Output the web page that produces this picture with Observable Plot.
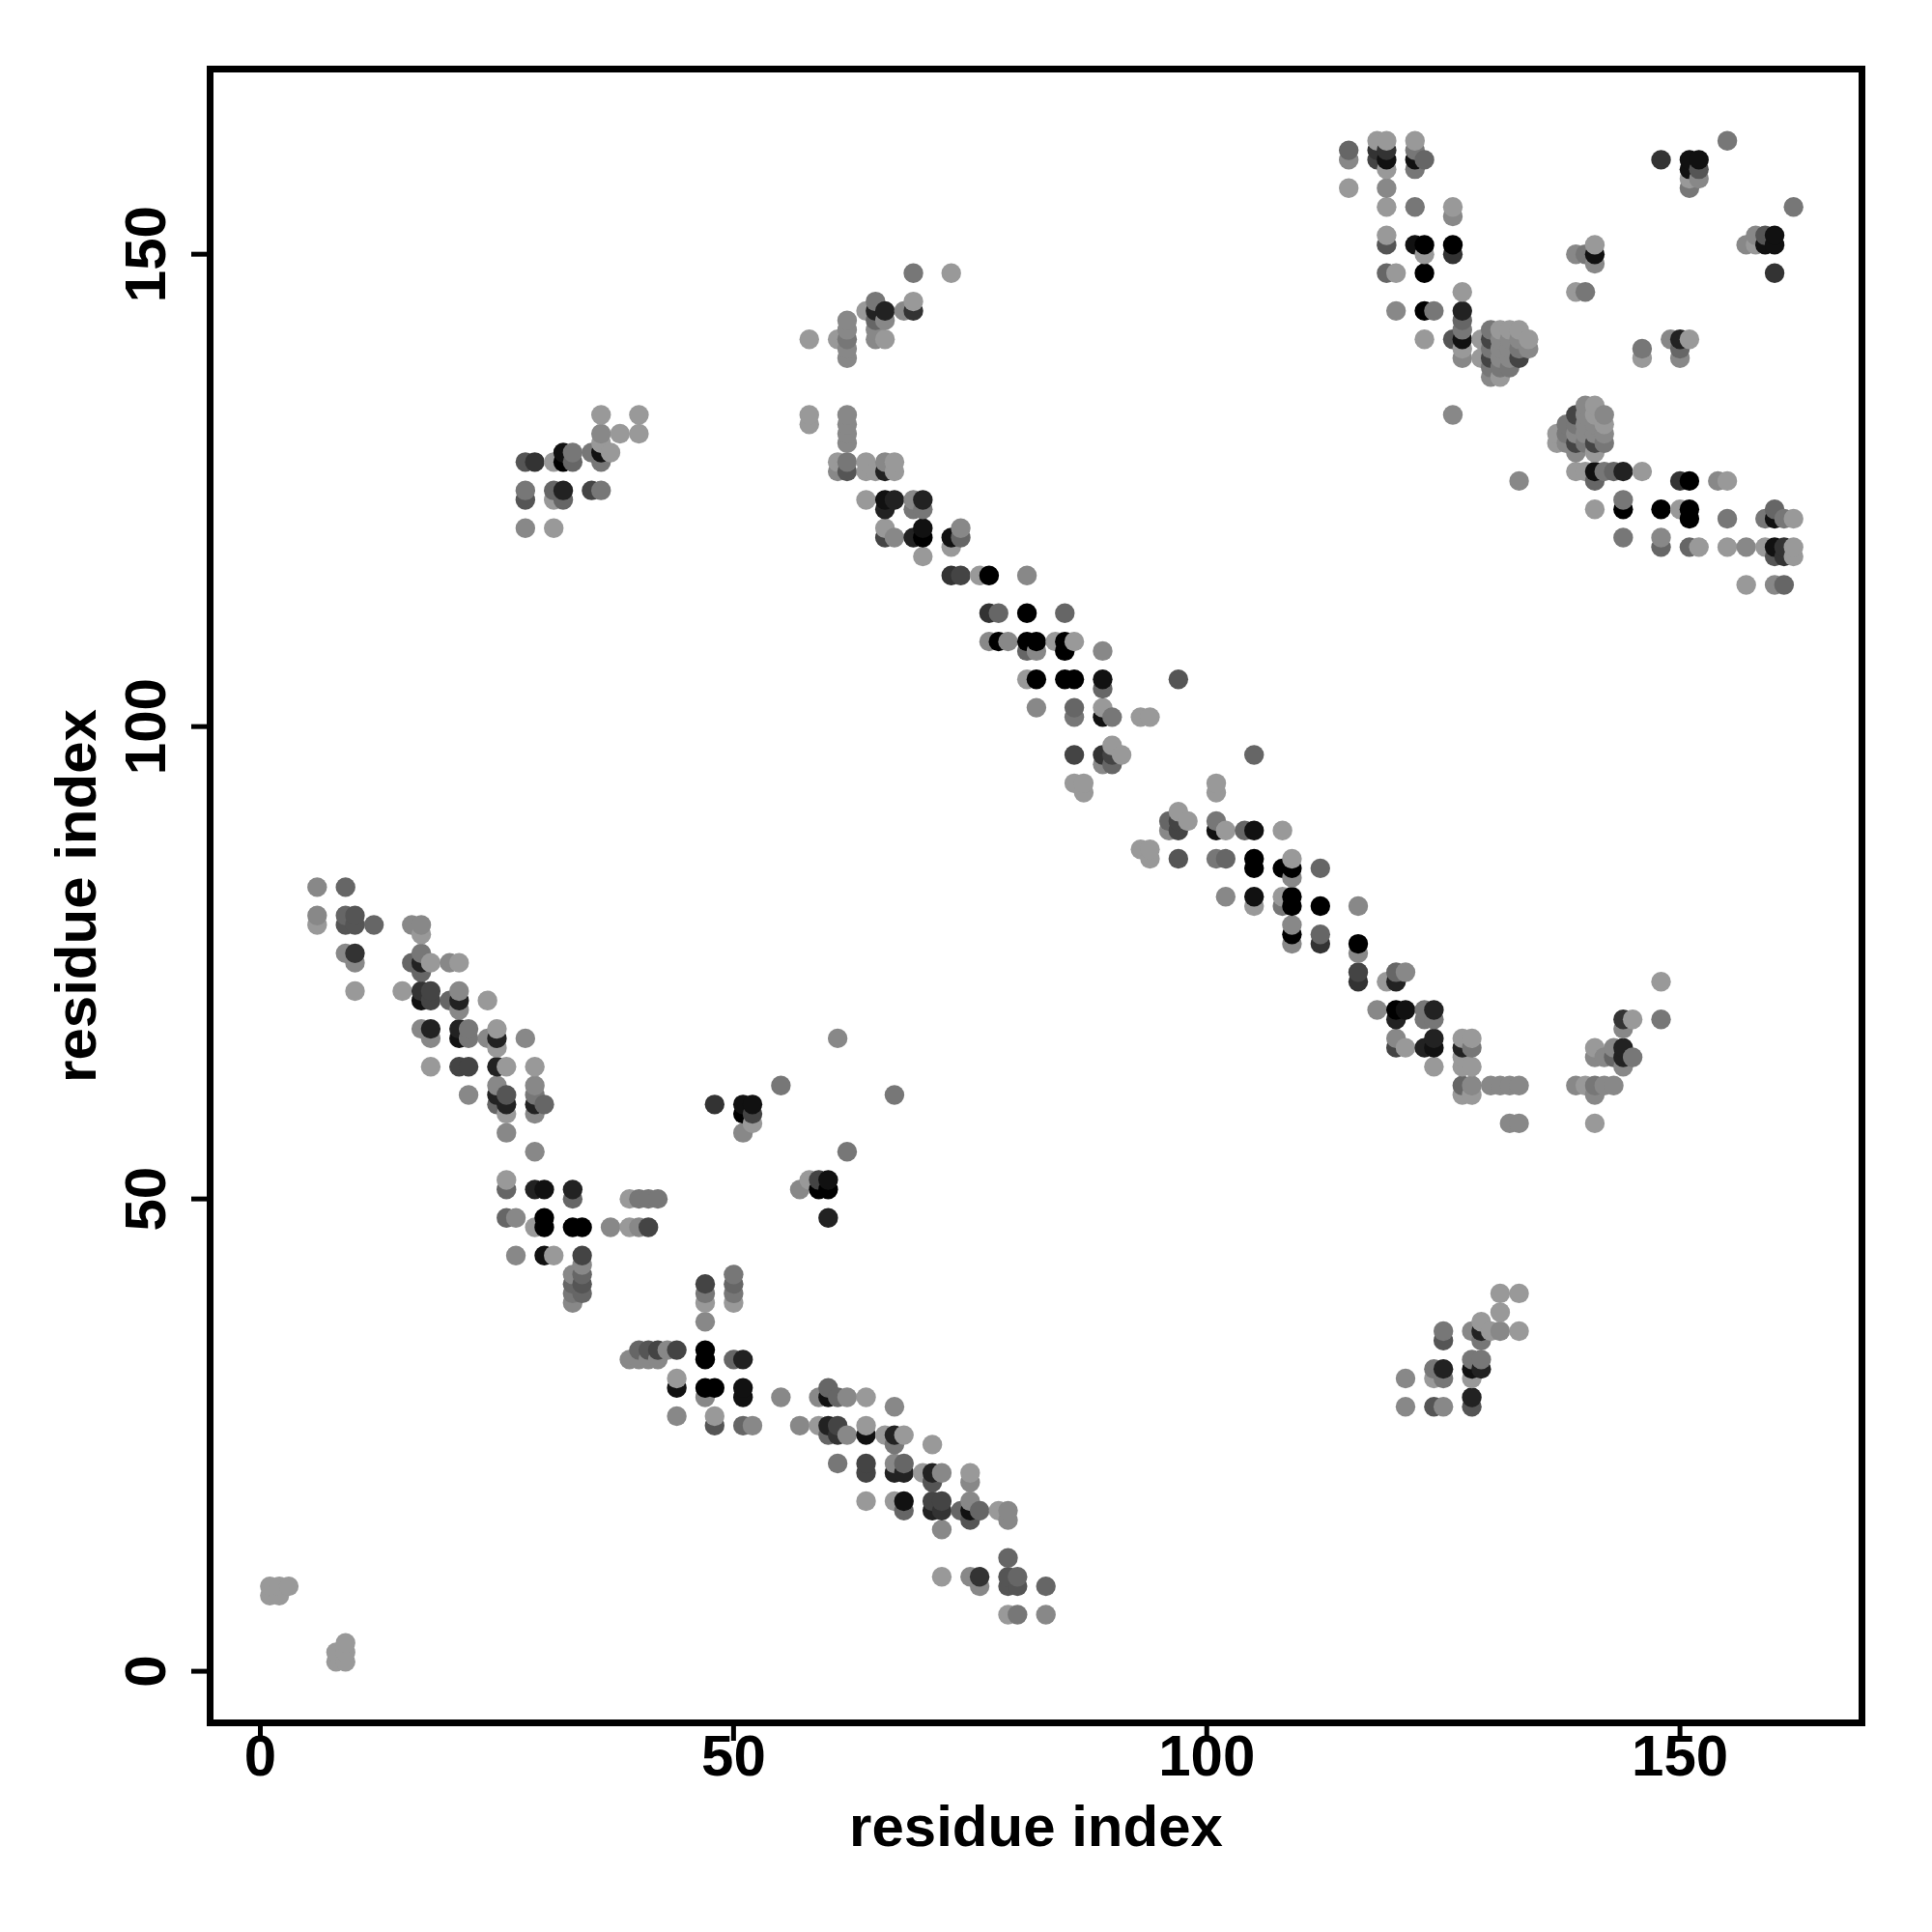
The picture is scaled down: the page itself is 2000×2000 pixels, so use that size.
<!DOCTYPE html>
<html>
<head>
<meta charset="utf-8">
<script src="https://cdn.jsdelivr.net/npm/d3@7"></script>
<script src="https://cdn.jsdelivr.net/npm/@observablehq/plot@0.6"></script>
<style>html,body{margin:0;padding:0;background:#fff}</style>
</head>
<body>
<div id="chart"></div>
<script>
// contacts: [residue i, residue j, strength 0 (weak) .. 9 (strong)]
const cornerContacts = [[1,9,0],[2,9,0],[3,9,0],[1,8,0],[2,8,0],[9,3,0],[8,2,0],[9,2,0],[8,1,0],[9,1,0]];
const helixA = [[6,83,1],[9,83,3],[6,80,1],[6,79,0],[9,80,3],[10,80,4],[9,79,4],[10,79,4],[12,79,3],[16,79,1],[17,79,1],[17,78,0],
[9,76,1],[10,76,6],[10,75,1],[10,72,0],[15,72,0],[17,76,2],[16,75,3],[17,75,7],[17,74,3],[18,75,0],[20,75,1],[21,75,0],
[17,72,6],[18,72,5],[17,71,8],[18,71,5],[21,72,1],[20,71,3],[21,71,7],[21,70,1],[24,71,0],[17,68,1],[18,68,7],[18,67,1],
[21,68,7],[22,68,2],[21,67,8],[22,67,2],[24,67,1],[25,68,0],[25,67,7],[25,66,0],[28,67,1],[18,64,0],[21,64,5],[22,64,5],
[25,64,7],[26,64,0],[29,64,0],[22,61,1],[25,62,1],[25,61,7],[25,60,3],[26,61,4],[26,60,7],[26,59,0],[26,57,1],
[29,62,1],[29,61,2],[29,60,7],[29,59,1],[30,60,3],[29,55,1]];
const helixB = [[26,52,0],[26,51,3],[29,51,7],[30,51,8],[33,51,7],[33,50,3],[39,50,0],[40,50,2],[41,50,2],[42,50,2],
[26,48,3],[27,48,1],[29,47,0],[30,48,9],[30,47,9],[33,47,9],[34,47,9],[37,47,1],[39,47,0],[40,47,1],[41,47,5],
[27,44,1],[30,44,8],[31,44,0],[34,44,5],[34,43,1],[34,42,3],[34,41,4],[34,40,3],[33,42,1],[33,41,3],[33,40,2],[33,39,1]];
const helixC = [[47,41,5],[47,40,2],[47,39,0],[47,37,1],[50,42,2],[50,41,3],[50,40,2],[50,39,0],
[40,34,3],[41,34,4],[42,34,5],[43,34,1],[44,34,5],[39,33,1],[40,33,1],[41,33,1],[42,33,1],[47,34,9],[47,33,9],[50,33,3],[51,33,7],
[44,31,0],[44,30,8],[47,30,9],[48,30,9],[47,29,1],[51,30,8],[51,29,8],[55,29,1],[44,27,1],[48,27,0],[48,26,4],[51,26,3],[52,26,1],[57,26,1],
[59,29,1],[60,30,3],[60,29,8],[61,29,3],[62,29,1],[64,29,0],[67,28,1],[59,26,0],[60,26,7],[61,26,5],[60,25,3],[61,25,6],[62,25,1],
[64,26,0],[64,25,8],[66,25,0],[67,25,7],[68,25,0],[67,24,2],[71,24,0],[61,22,2],[64,22,5],[64,21,5],[67,22,1],[68,22,3],[67,21,7],[68,21,7],
[70,21,0],[71,21,7],[72,21,1],[71,20,4],[75,21,0],[75,20,1],[64,18,0],[67,18,0],[68,18,8],[68,17,3],[71,18,5],[72,18,5],[71,17,7],[72,17,6],
[72,15,1],[74,17,3],[75,18,1],[75,17,8],[76,17,3],[75,16,4],[78,17,0],[79,17,1],[79,16,1],[72,10,0],[75,10,1],[76,10,6],[76,9,1],
[79,12,3],[79,10,4],[80,10,3],[79,9,4],[80,9,4],[83,9,3],[79,6,0],[80,6,2],[83,6,1]];
const isolatedContacts = [[61,67,1],[55,62,2],[48,60,6],[51,60,8],[52,60,8],[51,59,9],[52,59,5],[52,58,0],[51,57,1],[62,55,2],[67,61,2],
[58,52,0],[59,52,5],[60,52,8],[57,51,1],[59,51,9],[60,51,9],[60,48,7]];
const strandA = [[131,40,0],[133,40,0],[131,38,0],[129,37,0],[128,36,1],[129,36,7],[130,36,0],[131,36,1],[133,36,0],[129,35,2],[125,36,2],[125,35,4],
[128,33,2],[129,33,2],[128,32,8],[129,32,7],[128,31,0],[121,31,1],[124,32,2],[125,32,7],[124,31,0],[125,31,2],[121,28,1],[124,28,4],[125,28,1],[128,29,7],[128,28,4]];
const strandB = [[69,148,2],[73,148,0],[65,145,2],[64,144,0],[65,144,7],[66,144,7],[65,143,3],[66,143,1],[65,142,1],[68,144,1],[69,145,0],[69,144,6],
[62,143,1],[62,142,1],[62,141,2],[62,140,1],[62,139,1],[61,141,0],[58,141,0],[65,141,1],[66,141,0],[58,133,0],[58,132,0],[62,133,1],[62,132,1],[62,131,1],[62,130,1]];
const helixD = [[61,128,0],[62,128,2],[61,127,1],[62,127,4],[64,128,0],[64,127,0],[65,127,0],[66,128,1],[67,128,0],[66,127,7],[67,127,0],
[64,124,0],[66,124,8],[67,124,7],[66,123,7],[69,124,1],[70,124,7],[69,123,2],[70,123,2],[66,121,0],[66,120,5],[67,120,1],[69,120,7],[70,121,8],[70,120,9],[70,118,0],
[73,120,8],[74,121,1],[74,120,3],[73,119,0],[73,116,6],[74,116,5],[76,116,0],[77,116,9],[81,116,1],
[77,112,6],[78,112,3],[81,112,9],[85,112,3],[77,109,1],[78,109,9],[79,109,1],[81,109,9],[82,109,9],[84,109,0],[85,109,9],[86,109,0],
[81,108,3],[82,108,1],[85,108,9],[89,108,1],[81,105,0],[82,105,9],[85,105,9],[86,105,9],[89,105,8],[97,105,4],[89,104,3],
[82,102,1],[86,102,3],[89,102,0],[86,101,2],[89,101,8],[90,101,2],[93,101,0],[94,101,0],[90,98,0],[86,97,5],[89,97,6],[90,97,5],[91,97,0],[89,96,1],[90,96,3],
[86,94,0],[87,94,0],[87,93,0]];
const helixE = [[101,94,0],[101,93,0],[105,97,3],[97,91,0],[96,90,3],[98,90,0],[97,90,5],[96,89,1],[97,89,5],[101,90,2],[101,89,8],[102,89,0],[104,89,3],[105,89,8],[108,89,0],
[93,87,0],[94,87,0],[94,86,0],[97,86,4],[101,86,2],[102,86,3],[105,86,9],[105,85,9],[108,85,9],[109,86,0],[109,85,9],[109,84,1],[112,85,3],
[102,82,1],[105,82,8],[105,81,0],[108,82,0],[108,81,2],[109,82,9],[109,81,9],[112,81,9],[116,81,1],[109,79,1],[109,78,9],[109,77,1],[112,78,3],[112,77,6],
[116,77,9],[116,76,1],[116,74,5],[116,73,6],[119,73,0],[120,74,3],[121,74,1],[120,73,7],[118,70,1],[120,70,9],[121,70,8],[120,69,7],[123,70,2],[124,70,7],[123,69,2],[124,69,2],
[120,67,1],[120,66,5],[121,66,0],[123,66,7],[124,67,7],[124,66,8],[124,64,0],[127,67,0],[128,67,0],[127,66,7],[128,66,2],[127,65,0],[127,64,0],[128,64,0],
[127,62,3],[128,62,1],[127,61,0],[128,61,0],[130,62,1],[131,62,1],[132,62,1],[133,62,1],[132,58,1],[133,58,1]];
const strandC = [[139,62,1],[140,62,0],[141,62,2],[142,62,1],[143,62,1],[141,61,1],[141,58,0],[141,66,0],[141,65,1],[142,65,1],[143,66,1],[144,66,7],[143,65,3],[144,65,7],[145,65,2],[144,64,1],
[144,69,6],[145,69,0],[144,68,1],[148,73,0],[148,69,2]];
const clusterA = [[140,134,1],[141,134,0],[139,133,5],[140,133,1],[141,133,0],[142,133,1],[138,132,2],[139,132,2],[140,132,1],[141,132,1],[142,132,0],
[137,131,0],[138,131,2],[139,131,1],[140,131,1],[141,131,1],[142,131,1],[137,130,0],[138,130,1],[139,130,5],[140,130,2],[141,130,5],[142,130,2],[139,129,1],[141,129,0]];
const helixF = [[133,126,1],[139,127,0],[140,127,0],[141,127,8],[142,127,2],[143,127,3],[144,127,7],[146,127,0],[141,126,3],[150,126,6],[151,126,9],[154,126,1],[155,126,0],
[141,123,0],[144,124,2],[144,123,9],[148,123,9],[150,123,0],[151,123,9],[151,122,9],[155,122,2],[159,122,2],[160,123,3],[160,122,8],[161,122,2],[162,122,0],
[144,120,2],[148,120,1],[148,119,3],[151,119,3],[152,119,0],[155,119,0],[157,119,1],[159,119,0],[160,119,8],[161,119,6],[162,119,0],[160,118,4],[161,118,6],[162,118,0],
[157,115,0],[160,115,1],[161,115,3]];
const helixG = [[126,133,1],[115,161,3],[115,160,1],[115,157,0],[118,162,0],[119,162,0],[118,161,6],[119,161,6],[118,160,5],[119,160,8],[119,159,0],[119,157,1],
[119,155,0],[122,155,2],[126,155,0],[126,154,1],[119,152,0],[119,151,4],[122,151,8],[123,151,9],[123,150,0],[126,151,9],[126,150,6],[119,148,3],[120,148,0],[123,148,9],
[127,146,0],[120,144,1],[123,144,9],[124,144,2],[127,144,7],[127,143,3],[127,142,2],[127,141,8],[123,141,0],[126,141,4],[127,140,0],[127,139,1],
[122,162,0],[122,161,2],[122,160,8],[122,159,2],[123,160,3]];
const clusterB = [[129,141,0],[129,139,0],[130,142,2],[130,141,5],[130,140,2],[130,139,5],[130,138,2],[130,137,1],[131,142,0],[131,141,1],[131,140,1],[131,139,1],[131,138,2],[131,137,0],
[132,142,0],[132,141,1],[132,140,1],[132,139,1],[132,138,2],[133,142,0],[133,141,1],[133,140,2],[133,139,5],[134,141,0],[134,140,1]];
const strandD = [[155,162,2],[148,160,6],[151,160,8],[152,160,8],[151,159,8],[152,159,4],[151,158,0],[152,158,1],[151,157,2],[162,155,2],
[158,152,1],[159,152,4],[160,152,8],[157,151,1],[158,151,0],[159,151,8],[160,151,8],[160,148,6],[141,151,0],[139,150,1],[140,150,2],[141,150,8],[141,149,1],[139,146,0],[140,146,2],
[146,140,2],[146,139,0],[149,141,1],[150,141,7],[151,141,0],[150,140,3],[150,139,1]];
const strandE = [[36,133,0],[40,133,0],[36,131,1],[38,131,0],[40,131,0],[36,130,0],[35,129,2],[36,129,8],[37,129,0],[36,128,2],[28,128,4],[29,128,6],[31,128,0],[32,129,8],[33,129,2],[32,128,9],[33,128,3],
[28,125,2],[28,124,4],[31,125,3],[32,125,7],[31,124,0],[32,124,3],[35,125,5],[36,125,2],[28,121,1],[31,121,0]];

const tickValues = [0, 50, 100, 150];
const axisLabel = "residue index";

const contacts = d3.sort(
  [...cornerContacts, ...helixA, ...helixB, ...helixC, ...isolatedContacts, ...strandA, ...strandB,
   ...helixD, ...helixE, ...strandC, ...clusterA, ...helixF, ...helixG, ...clusterB, ...strandD, ...strandE]
    .map(([i, j, s]) => ({i, j, s})),
  d => d.i, d => d.j
);

const chart = Plot.plot({
  width: 2000,
  height: 2000,
  marginLeft: 217,
  marginRight: 73,
  marginTop: 71,
  marginBottom: 217,
  style: {background: "#fff", fontFamily: "'Liberation Sans', Arial, sans-serif", fontWeight: "bold", color: "#000"},
  x: {domain: [-5.31, 169.23]},
  y: {domain: [-5.46, 169.6]},
  color: {type: "linear", domain: [0, 9], range: ["#999999", "#000000"]},
  marks: [
    Plot.axisX({ticks: tickValues, tickSize: 19, tickPadding: -7, strokeWidth: 5, fontSize: 60, label: null, tickFormat: d => d}),
    Plot.axisY({ticks: tickValues, tickSize: 19, tickPadding: 28, strokeWidth: 5, fontSize: 60, tickRotate: -90, label: null, tickFormat: d => d}),
    Plot.text([axisLabel], {text: d => d, frameAnchor: "bottom", lineAnchor: "middle", textAnchor: "middle", dy: 108, fontSize: 60}),
    Plot.text([axisLabel], {text: d => d, frameAnchor: "left", lineAnchor: "middle", textAnchor: "middle", dx: -138, rotate: -90, fontSize: 60}),
    Plot.dot(contacts, {x: "i", y: "j", fill: "s", r: 10.2}),
    Plot.frame({stroke: "#000", strokeWidth: 7})
  ]
});
document.getElementById("chart").appendChild(chart);
</script>
</body>
</html>
